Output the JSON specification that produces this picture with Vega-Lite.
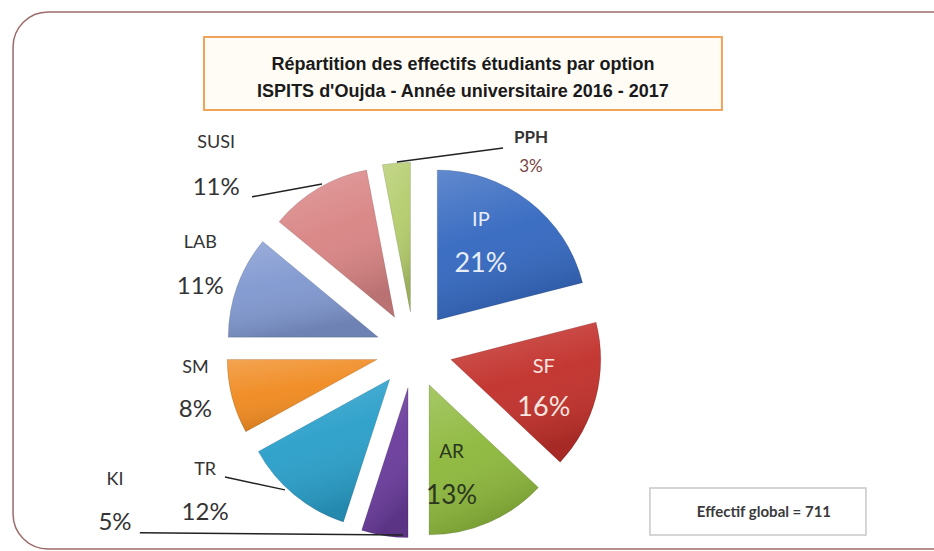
{
  "$schema": "https://vega.github.io/schema/vega-lite/v6.json",
  "width": 934,
  "height": 551,
  "autosize": {"type": "none"},
  "padding": 0,
  "background": "white",
  "config": {"view": {"stroke": null}, "text": {"font": "Lato"}},
  "layer": [
    {
      "data": {"values": [{"frame": "cadre"}]},
      "mark": {"type": "rect", "fill": "white", "stroke": "#9c6b6b", "strokeWidth": 1.5, "cornerRadius": 35},
      "encoding": {
        "x": {"datum": -2.673, "type": "quantitative", "scale": {"domain": [-2.76, 3.4667], "nice": false, "zero": false}, "axis": null},
        "x2": {"datum": 3.907},
        "y": {"datum": 2.253, "type": "quantitative", "scale": {"domain": [-1.34, 2.3333], "nice": false, "zero": false}, "axis": null},
        "y2": {"datum": -1.327}
      }
    },
    {
      "data": {"values": [{"l1": "Répartition des effectifs étudiants par option", "l2": "ISPITS d'Oujda  - Année universitaire 2016 - 2017"}]},
      "layer": [
        {
          "mark": {"type": "rect", "fill": "#fffcf6", "stroke": "#f0a45a", "strokeWidth": 2},
          "encoding": {
            "x": {"datum": -1.40, "type": "quantitative", "scale": {"domain": [-2.76, 3.4667], "nice": false, "zero": false}, "axis": null},
            "x2": {"datum": 2.053},
            "y": {"datum": 2.087, "type": "quantitative", "scale": {"domain": [-1.34, 2.3333], "nice": false, "zero": false}, "axis": null},
            "y2": {"datum": 1.6}
          }
        },
        {
          "mark": {"type": "text", "font": "Liberation Sans", "fontWeight": "bold", "fontSize": 18, "fill": "#1a1a1a", "dy": -13.5},
          "encoding": {
            "x": {"datum": 0.3267, "type": "quantitative", "scale": {"domain": [-2.76, 3.4667], "nice": false, "zero": false}, "axis": null},
            "y": {"datum": 1.81, "type": "quantitative", "scale": {"domain": [-1.34, 2.3333], "nice": false, "zero": false}, "axis": null},
            "text": {"field": "l1"}
          }
        },
        {
          "mark": {"type": "text", "font": "Liberation Sans", "fontWeight": "bold", "fontSize": 18, "fill": "#1a1a1a", "dy": 13.5},
          "encoding": {
            "x": {"datum": 0.3267, "type": "quantitative", "scale": {"domain": [-2.76, 3.4667], "nice": false, "zero": false}, "axis": null},
            "y": {"datum": 1.81, "type": "quantitative", "scale": {"domain": [-1.34, 2.3333], "nice": false, "zero": false}, "axis": null},
            "text": {"field": "l2"}
          }
        }
      ]
    },
    {
      "data": {"values": [{"note": "Effectif global = 711"}]},
      "layer": [
        {
          "mark": {"type": "rect", "fill": "white", "stroke": "#c8c8c8", "strokeWidth": 1.5},
          "encoding": {
            "x": {"datum": 1.573, "type": "quantitative", "scale": {"domain": [-2.76, 3.4667], "nice": false, "zero": false}, "axis": null},
            "x2": {"datum": 3.013},
            "y": {"datum": -0.92, "type": "quantitative", "scale": {"domain": [-1.34, 2.3333], "nice": false, "zero": false}, "axis": null},
            "y2": {"datum": -1.233}
          }
        },
        {
          "mark": {"type": "text", "fontWeight": "bold", "fontSize": 15, "fill": "#3a3a3a"},
          "encoding": {
            "x": {"datum": 2.333, "type": "quantitative", "scale": {"domain": [-2.76, 3.4667], "nice": false, "zero": false}, "axis": null},
            "y": {"datum": -1.08, "type": "quantitative", "scale": {"domain": [-1.34, 2.3333], "nice": false, "zero": false}, "axis": null},
            "text": {"field": "note"}
          }
        }
      ]
    },
    {
      "data": {"values": [
        {"option": "IP", "pct": 21},
        {"option": "SF", "pct": 16},
        {"option": "AR", "pct": 13},
        {"option": "KI", "pct": 5},
        {"option": "TR", "pct": 12},
        {"option": "SM", "pct": 8},
        {"option": "LAB", "pct": 11},
        {"option": "SUSI", "pct": 11},
        {"option": "PPH", "pct": 3}
      ]},
      "transform": [
        {"window": [{"op": "sum", "field": "pct", "as": "cum"}], "frame": [null, 0]},
        {"calculate": "datum.cum - datum.pct", "as": "t0"},
        {"calculate": "datum.cum - datum.pct / 2", "as": "tm"},
        {"calculate": "0.2533 * sin(PI * datum.tm / 50)", "as": "ex"},
        {"calculate": "0.2533 * cos(PI * datum.tm / 50)", "as": "ey"},
        {"calculate": "datum.pct + '%'", "as": "pctLabel"}
      ],
      "layer": [
        {
          "encoding": {
            "theta": {"field": "t0", "type": "quantitative", "scale": {"domain": [0, 100]}, "stack": null},
            "theta2": {"field": "cum"},
            "x": {"field": "ex", "type": "quantitative", "scale": {"domain": [-2.76, 3.4667], "nice": false, "zero": false}, "axis": null},
            "y": {"field": "ey", "type": "quantitative", "scale": {"domain": [-1.34, 2.3333], "nice": false, "zero": false}, "axis": null}
          },
          "layer": [
            {
              "mark": {"type": "arc", "radius": 150},
              "encoding": {
                "color": {
                  "field": "option", "type": "nominal", "legend": null,
                  "scale": {
                    "domain": ["IP", "SF", "AR", "KI", "TR", "SM", "LAB", "SUSI", "PPH"],
                    "range": ["#3468c0", "#c2302b", "#8db83c", "#6a3c9c", "#2a9fca", "#f08a20", "#8098d0", "#d98484", "#b4cc6c"]
                  }
                }
              }
            },
            {
              "mark": {
                "type": "arc", "radius": 150,
                "fill": {"gradient": "linear", "x1": 0, "y1": 0, "x2": 0.3, "y2": 1, "stops": [
                  {"offset": 0, "color": "rgba(255,255,255,0.22)"},
                  {"offset": 0.5, "color": "rgba(255,255,255,0.04)"},
                  {"offset": 1, "color": "rgba(0,0,0,0.14)"}
                ]},
                "stroke": "rgba(0,0,0,0.12)",
                "strokeWidth": 1
              }
            }
          ]
        },
        {
          "transform": [
            {"filter": {"field": "option", "oneOf": ["SUSI", "PPH", "TR", "KI"]}},
            {"calculate": "PI * datum.tm / 50", "as": "a"},
            {"calculate": "(datum.option === 'SUSI' ? -16.0 : datum.option === 'PPH' ? 0.2 : datum.option === 'TR' ? 16.5 : 47.3) * PI / 180", "as": "o1"},
            {"calculate": "datum.option === 'SUSI' ? 1.486 : datum.option === 'PPH' ? 1.259 : datum.option === 'TR' ? 1.518 : 2.197", "as": "r1"},
            {"calculate": "(datum.option === 'SUSI' ? 1.6 : datum.option === 'PPH' ? 29.2 : datum.option === 'TR' ? 3.1 : -5.6) * PI / 180", "as": "o2"},
            {"calculate": "datum.option === 'SUSI' ? 1.265 : datum.option === 'PPH' ? 1.471 : datum.option === 'TR' ? 1.269 : 1.235", "as": "r2"},
            {"calculate": "datum.r1 * sin(datum.a + datum.o1)", "as": "lx1"},
            {"calculate": "datum.r1 * cos(datum.a + datum.o1)", "as": "ly1"},
            {"calculate": "datum.r2 * sin(datum.a + datum.o2)", "as": "lx2"},
            {"calculate": "datum.r2 * cos(datum.a + datum.o2)", "as": "ly2"}
          ],
          "mark": {"type": "rule", "color": "#222222", "strokeWidth": 1.5},
          "encoding": {
            "x": {"field": "lx1", "type": "quantitative", "scale": {"domain": [-2.76, 3.4667], "nice": false, "zero": false}, "axis": null},
            "y": {"field": "ly1", "type": "quantitative", "scale": {"domain": [-1.34, 2.3333], "nice": false, "zero": false}, "axis": null},
            "x2": {"field": "lx2"},
            "y2": {"field": "ly2"}
          }
        },
        {
          "encoding": {
            "x": {"datum": 0, "type": "quantitative", "scale": {"domain": [-2.76, 3.4667], "nice": false, "zero": false}, "axis": null},
            "y": {"datum": 0, "type": "quantitative", "scale": {"domain": [-1.34, 2.3333], "nice": false, "zero": false}, "axis": null},
            "theta": {"field": "tm", "type": "quantitative", "scale": {"domain": [0, 100]}, "stack": null}
          },
          "layer": [
            {"transform": [{"filter": "datum.option === 'IP'"}], "layer": [
              {"mark": {"type": "text", "radius": 127, "thetaOffset": -0.105, "dy": -22, "fontSize": 20, "fill": "#e8eef8"}, "encoding": {"text": {"field": "option"}}},
              {"mark": {"type": "text", "radius": 127, "thetaOffset": -0.105, "dy": 22, "fontSize": 27, "fill": "#e8eef8"}, "encoding": {"text": {"field": "pctLabel"}}}
            ]},
            {"transform": [{"filter": "datum.option === 'SF'"}], "layer": [
              {"mark": {"type": "text", "radius": 135, "thetaOffset": 0.026, "dy": -20, "fontSize": 20, "fill": "#f8e6e0"}, "encoding": {"text": {"field": "option"}}},
              {"mark": {"type": "text", "radius": 135, "thetaOffset": 0.026, "dy": 21, "fontSize": 27, "fill": "#f8e6e0"}, "encoding": {"text": {"field": "pctLabel"}}}
            ]},
            {"transform": [{"filter": "datum.option === 'AR'"}], "layer": [
              {"mark": {"type": "text", "radius": 130, "thetaOffset": 0.115, "dy": -22, "fontSize": 19, "fill": "#2a3620"}, "encoding": {"text": {"field": "option"}}},
              {"mark": {"type": "text", "radius": 130, "thetaOffset": 0.115, "dy": 22, "fontSize": 26, "fill": "#2a3620"}, "encoding": {"text": {"field": "pctLabel"}}}
            ]},
            {"transform": [{"filter": "datum.option === 'KI'"}], "layer": [
              {"mark": {"type": "text", "radius": 335, "thetaOffset": 0.946, "dy": -21, "fontSize": 18, "fill": "#333333"}, "encoding": {"text": {"field": "option"}}},
              {"mark": {"type": "text", "radius": 335, "thetaOffset": 0.946, "dy": 22, "fontSize": 24, "fill": "#333333"}, "encoding": {"text": {"field": "pctLabel"}}}
            ]},
            {"transform": [{"filter": "datum.option === 'TR'"}], "layer": [
              {"mark": {"type": "text", "radius": 252, "thetaOffset": 0.286, "dy": -21, "fontSize": 18, "fill": "#333333"}, "encoding": {"text": {"field": "option"}}},
              {"mark": {"type": "text", "radius": 252, "thetaOffset": 0.286, "dy": 22, "fontSize": 24, "fill": "#333333"}, "encoding": {"text": {"field": "pctLabel"}}}
            ]},
            {"transform": [{"filter": "datum.option === 'SM'"}], "layer": [
              {"mark": {"type": "text", "radius": 222, "thetaOffset": 0.075, "dy": -21, "fontSize": 18, "fill": "#333333"}, "encoding": {"text": {"field": "option"}}},
              {"mark": {"type": "text", "radius": 222, "thetaOffset": 0.075, "dy": 21, "fontSize": 24, "fill": "#333333"}, "encoding": {"text": {"field": "pctLabel"}}}
            ]},
            {"transform": [{"filter": "datum.option === 'LAB'"}], "layer": [
              {"mark": {"type": "text", "radius": 230, "thetaOffset": 0.033, "dy": -22, "fontSize": 18, "fill": "#333333"}, "encoding": {"text": {"field": "option"}}},
              {"mark": {"type": "text", "radius": 230, "thetaOffset": 0.033, "dy": 22, "fontSize": 24, "fill": "#333333"}, "encoding": {"text": {"field": "pctLabel"}}}
            ]},
            {"transform": [{"filter": "datum.option === 'SUSI'"}], "layer": [
              {"mark": {"type": "text", "radius": 271, "thetaOffset": -0.284, "dy": -22, "fontSize": 18, "fill": "#333333"}, "encoding": {"text": {"field": "option"}}},
              {"mark": {"type": "text", "radius": 271, "thetaOffset": -0.284, "dy": 23, "fontSize": 24, "fill": "#333333"}, "encoding": {"text": {"field": "pctLabel"}}}
            ]},
            {"transform": [{"filter": "datum.option === 'PPH'"}], "layer": [
              {"mark": {"type": "text", "radius": 230, "thetaOffset": 0.628, "dy": -14, "fontSize": 17, "fontWeight": "bold", "fill": "#333333"}, "encoding": {"text": {"field": "option"}}},
              {"mark": {"type": "text", "radius": 230, "thetaOffset": 0.628, "dy": 15, "fontSize": 17, "fill": "#7a4545"}, "encoding": {"text": {"field": "pctLabel"}}}
            ]}
          ]
        }
      ]
    }
  ]
}
